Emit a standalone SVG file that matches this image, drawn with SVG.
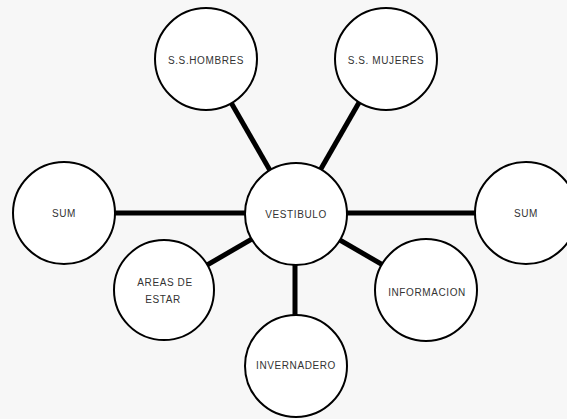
<svg xmlns="http://www.w3.org/2000/svg" width="567" height="419" viewBox="0 0 567 419">
<style>
.node circle{fill:#fff;stroke:#000;stroke-width:2}
.node text{font-family:"Liberation Sans",Arial,sans-serif;font-size:10px;fill:#333;text-anchor:middle;letter-spacing:0.6px}
.conn line{stroke:#000;stroke-width:5}
</style>
<rect width="567" height="419" fill="#f7f7f7"/>
<g id="connectors" class="conn">
<line x1="295" y1="214" x2="206" y2="59"/>
<line x1="295" y1="214" x2="384" y2="59"/>
<line x1="295" y1="213" x2="64" y2="213"/>
<line x1="295" y1="213" x2="526" y2="213"/>
<line x1="295" y1="214" x2="164" y2="290"/>
<line x1="295" y1="214" x2="426" y2="290"/>
<line x1="295" y1="214" x2="295" y2="366"/>
</g>
<g id="ss-hombres" class="node"><circle cx="206" cy="59" r="51"/><text x="206" y="64">S.S.HOMBRES</text></g>
<g id="ss-mujeres" class="node"><circle cx="386" cy="59" r="51"/><text x="386" y="64">S.S. MUJERES</text></g>
<g id="vestibulo" class="node"><circle cx="296" cy="214" r="51"/><text x="296" y="218">VESTIBULO</text></g>
<g id="sum-left" class="node"><circle cx="64" cy="213" r="51"/><text x="64" y="217">SUM</text></g>
<g id="sum-right" class="node"><circle cx="526" cy="213" r="51"/><text x="526" y="217">SUM</text></g>
<g id="areas-de-estar" class="node"><circle cx="164" cy="290" r="50"/><text x="165" y="286">AREAS DE</text><text x="163" y="303">ESTAR</text></g>
<g id="informacion" class="node"><circle cx="426" cy="290" r="51"/><text x="427" y="296">INFORMACION</text></g>
<g id="invernadero" class="node"><circle cx="296" cy="366" r="51"/><text x="296" y="369">INVERNADERO</text></g>
</svg>
